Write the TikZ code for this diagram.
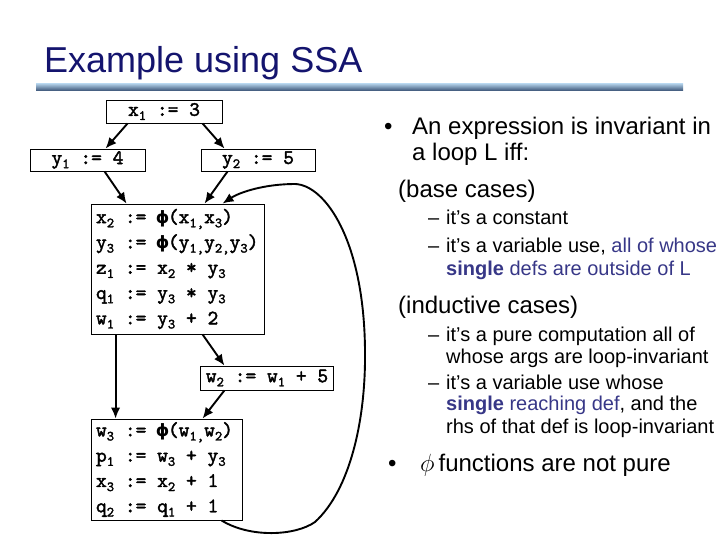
\documentclass[tikz,border=0pt]{standalone}
\usepackage{fontspec}
\setmainfont{Liberation Sans}
\newfontfamily\phifont{DejaVu Sans}
\newfontfamily\codefont{lmmono10-regular.otf}[FakeBold=2]
\usetikzlibrary{arrows.meta,calc}
\definecolor{titleblue}{RGB}{20,20,110}
\definecolor{hl}{RGB}{55,55,135}
\newcommand\subs[1]{\raisebox{-0.2em}{\fontsize{14}{14}\selectfont #1}}
\newcommand\phic{\makebox[0.525em]{\fontsize{17}{17}\phifont\bfseries ϕ}}
\newcommand\fixsp{\spaceskip=0pt\xspaceskip=0pt\relax}
\tikzset{
  codebox/.style={draw, line width=0.9pt, inner ysep=0pt, inner xsep=5pt,
    font=\codefont\fontsize{20.5}{25.3}\selectfont},
  arr/.style={line width=1.9pt, -{Latex[length=11pt,width=9.5pt]}},
  big/.style={anchor=base west, inner sep=0pt, font=\fontsize{24}{26}\selectfont},
  small/.style={anchor=base west, inner sep=0pt, font=\fontsize{20}{22}\selectfont},
}
\begin{document}
\begin{tikzpicture}[x=1pt,y=-1pt]
\useasboundingbox (0,0) rectangle (720,540);
% title
\node[anchor=base west, inner sep=0pt, text=titleblue, font=\fontsize{36}{40}\selectfont] (title) at (44,73) {Example using SSA};
\shade[top color={rgb,255:red,170;green,200;blue,225}, bottom color={rgb,255:red,55;green,80;blue,115}] (36,84) rectangle (683,91);

% CFG boxes
\node[codebox, minimum width=116pt, minimum height=23pt] (A) at (164,111.5) {x\subs{1} := 3};
\node[codebox, minimum width=115pt, minimum height=22pt] (B) at (87.5,160) {y\subs{1} := 4};
\node[codebox, minimum width=114pt, minimum height=22pt] (C) at (258,160) {y\subs{2} := 5};
\node[codebox, text width=163pt, align=left, minimum height=130pt] (D) at (177.5,269)
 {\fixsp x\subs{2} := \phic(x\subs{1,}x\subs{3})\\
  y\subs{3} := \phic(y\subs{1,}y\subs{2,}y\subs{3})\\
  z\subs{1} := x\subs{2} * y\subs{3}\\
  q\subs{1} := y\subs{3} * y\subs{3}\\
  w\subs{1} := y\subs{3} + 2};
\node[codebox, minimum width=132pt, minimum height=24pt] (E) at (267,378) {w\subs{2} := w\subs{1} + 5};
\node[codebox, text width=141pt, align=left, minimum height=101pt] (F) at (166.5,469.5)
 {\fixsp w\subs{3} := \phic(w\subs{1,}w\subs{2})\\
  p\subs{1} := w\subs{3} + y\subs{3}\\
  x\subs{3} := x\subs{2} + 1\\
  q\subs{2} := q\subs{1} + 1};

% edges
\draw[arr] ($(A.south west)+(22,0)$) -- ($(B.north west)+(76,0)$);
\draw[arr] ($(A.south west)+(97,0)$) -- ($(C.north west)+(24,0)$);
\draw[arr] ($(B.south west)+(75,0)$) -- ($(D.north west)+(36,0)$);
\draw[arr] ($(C.south west)+(27,0)$) -- ($(D.north west)+(114,0)$);
\draw[arr] ($(D.south west)+(25,0)$) -- ($(F.north west)+(25,0)$);
\draw[arr] ($(D.south west)+(112,0)$) -- ($(E.north west)+(24,0)$);
\draw[arr] ($(E.south west)+(24,0)$) -- ($(F.north west)+(112,0)$);
\coordinate (bs) at ($(F.south west)+(131,0)$);
\coordinate (be) at ($(D.north west)+(132,0)$);
\draw[arr] (bs) .. controls (250,538) and (295,536) .. (315,522)
  .. controls (350,490) and (366,420) .. (365,350)
  .. controls (364,240) and (325,185) .. (295,184)
  .. controls (265,184) and (240,192) .. (be);

% right column text
\node[big] (b1) at (384,135) {•};
\node[big] (t1) at (412,135) {An expression is invariant in};
\node[big] (t2) at (412,161) {a loop L iff:};
\node[big] (t3) at (398,197) {(base cases)};
\node[small] (d1) at (428,225) {–};
\node[small] (t4) at (446,225) {it’s a constant};
\node[small] (d2) at (428,252) {–};
\node[small] (t5) at (446,252) {it’s a variable use, \textcolor{hl}{all of whose}};
\node[small, text=hl] (t6) at (446,275) {\textbf{single} defs are outside of L};
\node[big] (t7) at (398,313) {(inductive cases)};
\node[small] (d3) at (428,341) {–};
\node[small] (t8) at (446,341) {it’s a pure computation all of};
\node[small] (t9) at (446,363) {whose args are loop-invariant};
\node[small] (d4) at (428,389) {–};
\node[small] (t10) at (446,389) {it’s a variable use whose};
\node[small] (t11) at (446,410) {\textcolor{hl}{\textbf{single} reaching def}, and the};
\node[small] (t12) at (446,433) {rhs of that def is loop-invariant};
\node[big] (b2) at (388,471) {•};
\node[big] (t13) at (420,471) {$\phi$\,functions are not pure};
\end{tikzpicture}
\end{document}
